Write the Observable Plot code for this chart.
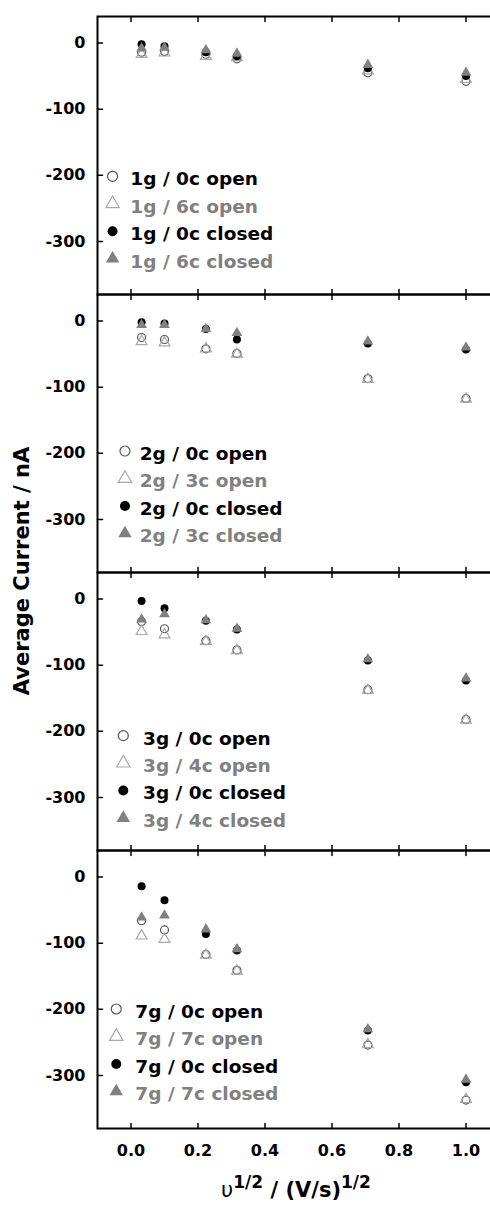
<!DOCTYPE html>
<html><head><meta charset="utf-8">
<script src="https://cdn.jsdelivr.net/npm/d3@7"></script>
<script src="https://cdn.jsdelivr.net/npm/@observablehq/plot@0.6"></script>
<style>
body{margin:0;background:#fff;}
#wrap{position:relative;width:490px;height:1205px;overflow:hidden;font-family:"DejaVu Sans",sans-serif;background:#fff;}
#chart{width:499px;}
#chart svg{max-width:none !important;}
#ylab{position:absolute;left:22px;top:571px;transform:translate(-50%,-50%) rotate(-90deg);font-weight:bold;font-size:21px;white-space:nowrap;line-height:21px;}
#xlab{position:absolute;left:296px;top:1180px;transform:translateX(-50%);font-weight:bold;font-size:21px;white-space:nowrap;line-height:21px;}
#xlab .s{font-size:17px;position:relative;top:-9px;}
</style></head><body>
<div id="wrap"><div id="chart"></div>
<div id="ylab">Average Current / nA</div>
<div id="xlab"><span style="font-weight:normal">υ</span><span class="s">1/2</span> / (V/s)<span class="s">1/2</span></div>
</div>
<script>
// υ^1/2 values (x)
const sqrtScanRate = [0.0316, 0.1, 0.2236, 0.3162, 0.7071, 1.0];
const panels = ["1g", "2g", "3g", "7g"];
const coatings = ["6c", "3c", "4c", "7c"];
const xTicks = [0, 0.2, 0.4, 0.6, 0.8, 1.0];
const yTicks = [0, -100, -200, -300];

// 1g panel
const g1_0c_open   = [-14, -13, -17, -24, -45, -58];
const g1_6c_open   = [-17, -15, -20, -22, -42, -55];
const g1_0c_closed = [-2, -5, -14, -20, -38, -50];
const g1_6c_closed = [-8, -7, -11, -16, -33, -45];
// 2g panel
const g2_0c_open   = [-25, -28, -42, -49, -87, -117];
const g2_3c_open   = [-31, -33, -42, -50, -88, -118];
const g2_0c_closed = [-2, -4, -12, -28, -34, -43];
const g2_3c_closed = [-6, -6, -12, -18, -31, -40];
// 3g panel
const g3_0c_open   = [-34, -45, -63, -77, -137, -182];
const g3_4c_open   = [-49, -54, -64, -78, -138, -183];
const g3_0c_closed = [-3, -14, -33, -46, -93, -123];
const g3_4c_closed = [-31, -23, -32, -45, -91, -120];
// 7g panel
const g7_0c_open   = [-66, -80, -117, -141, -254, -337];
const g7_7c_open   = [-89, -94, -118, -142, -253, -336];
const g7_0c_closed = [-14, -35, -86, -111, -232, -310];
const g7_7c_closed = [-61, -58, -79, -109, -230, -306];

const panelSeries = [
  [g1_0c_open, g1_6c_open, g1_0c_closed, g1_6c_closed],
  [g2_0c_open, g2_3c_open, g2_0c_closed, g2_3c_closed],
  [g3_0c_open, g3_4c_open, g3_0c_closed, g3_4c_closed],
  [g7_0c_open, g7_7c_open, g7_0c_closed, g7_7c_closed]
];

// series styles: 0c open, Nc open, 0c closed, Nc closed
const styles = [
  {symbol: "circle", fill: "none", stroke: "#555", text: "#000"},
  {symbol: "triangle", fill: "none", stroke: "#a8a8a8", text: "#808080"},
  {symbol: "circle", fill: "#000", stroke: "none", text: "#000"},
  {symbol: "triangle", fill: "#808080", stroke: "none", text: "#808080"}
];

const rows = [];
panels.forEach((p, i) => panelSeries[i].forEach((vals, s) => vals.forEach((v, j) =>
  rows.push({panel: p, s, x: sqrtScanRate[j], y: v}))));

// legend layout (per panel, in axis units)
const legSymX = [-0.055, -0.018, -0.023, -0.044];
const legTextX = [-0.002, 0.026, 0.036, 0.013];
const legTop = [-206, -201, -211, -204];
const legStep = -41.5;
const legend = [];
panels.forEach((p, i) => {
  const c = coatings[i];
  const labels = [`${p} / 0c open`, `${p} / ${c} open`, `${p} / 0c closed`, `${p} / ${c} closed`];
  labels.forEach((lab, s) => legend.push({panel: p, s, label: lab, sx: legSymX[i], tx: legTextX[i], y: legTop[i] + s * legStep}));
});

const xDomain = [-0.1, 1.1], yDomain = [-380, 40];
const tick = 5;
const tickShape = {draw(context, l) { context.moveTo(0, 0); context.lineTo(0, -l); }};

const marks = [];
styles.forEach((st, s) => {
  marks.push(Plot.dot(rows.filter(d => d.s === s), {x: "x", y: "y", fy: "panel", symbol: st.symbol, r: 4, fill: st.fill, stroke: st.stroke, strokeWidth: 1.2}));
});
styles.forEach((st, s) => {
  const L = legend.filter(d => d.s === s);
  marks.push(Plot.dot(L, {x: "sx", y: "y", fy: "panel", dy: -3, symbol: st.symbol, r: 5, fill: st.fill, stroke: st.stroke, strokeWidth: 1.2}));
  marks.push(Plot.text(L, {x: "tx", y: "y", fy: "panel", text: "label", textAnchor: "start", fill: st.text, fontSize: 18.5, fontWeight: "bold"}));
});

const chart = Plot.plot({
  width: 499, height: 1165,
  marginLeft: 97, marginRight: 0, marginTop: 15, marginBottom: 37,
  x: {domain: xDomain},
  y: {domain: yDomain},
  fy: {domain: panels, padding: 0, axis: null, label: null},
  style: {fontFamily: "DejaVu Sans", fontWeight: "bold", fontSize: "16px", background: "white", color: "black"},
  marks: [
    // inward ticks (every panel), drawn from the frame edges
    Plot.vector(xTicks, {x: d => d, y: () => yDomain[1], length: tick, rotate: 180, anchor: "start", shape: tickShape, stroke: "black", strokeWidth: 1.5}),
    Plot.vector(xTicks, {x: d => d, y: () => yDomain[0], length: tick, rotate: 0, anchor: "start", shape: tickShape, stroke: "black", strokeWidth: 1.5}),
    Plot.vector(yTicks, {x: () => xDomain[0], y: d => d, length: tick, rotate: 90, anchor: "start", shape: tickShape, stroke: "black", strokeWidth: 1.5}),
    // tick labels
    Plot.axisY({anchor: "left", ticks: yTicks, tickSize: 0, tickPadding: 12, label: null, tickFormat: d => `${d}`, fontSize: 16}),
    Plot.axisX({anchor: "bottom", ticks: xTicks, tickSize: 0, tickPadding: 16, label: null, tickFormat: d3.format(".1f"), fontSize: 16}),
    ...marks,
    Plot.frame({stroke: "black", strokeWidth: 2})
  ]
});
document.getElementById("chart").appendChild(chart);
</script>
</body></html>
